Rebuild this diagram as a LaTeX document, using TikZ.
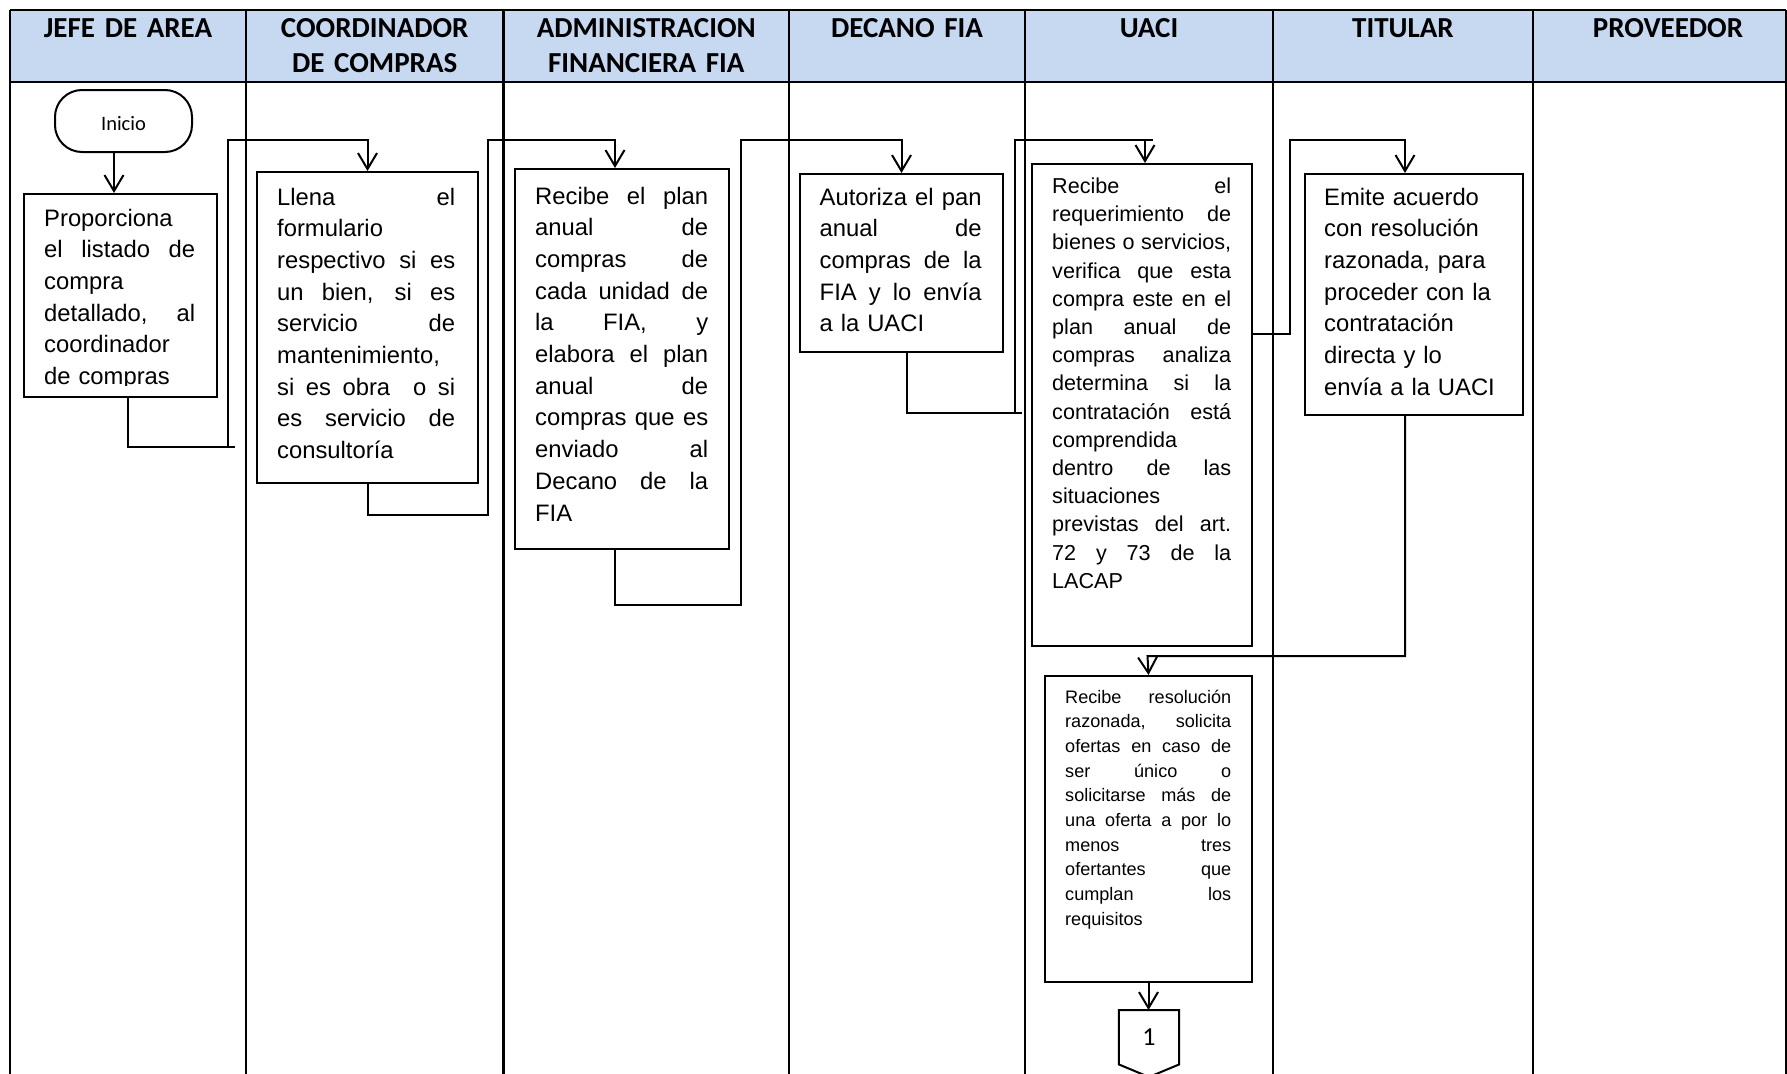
\documentclass[tikz,border=0pt]{standalone}
\usepackage{fontspec}
\setmainfont{Liberation Sans}
\newfontfamily\headfont{Carlito}
\usetikzlibrary{arrows.meta}
\definecolor{headblue}{RGB}{198,217,241}
% width of the justified lines of the current box text
\newlength\jw
% one justified line: the word spaces share the free room
\newcommand\jline[1]{\leavevmode\hbox to \jw{\spaceskip=0.28em plus 1fil\relax #1}}

\begin{document}
\begin{tikzpicture}[x=1pt,y=-1pt,
  rule/.style={line width=2.7pt},
  box/.style={draw,line width=2pt,inner sep=0pt,anchor=north west},
  txt/.style={inner sep=0pt,anchor=base west,align=left,
    text width=#1,jwidth=#1},
  jwidth/.code={\global\jw=#1\relax},
  big/.style={font=\fontsize{23.8}{31.7}\selectfont},
  mid/.style={font=\fontsize{21.6}{28.2}\selectfont},
  small/.style={font=\fontsize{18.1}{24.7}\selectfont},
  head/.style={inner sep=0pt,anchor=base,align=center,
    font=\headfont\bfseries\fontsize{29}{35.5}\selectfont},
  flow/.style={line width=2pt,-{Straight Barb[length=16pt,width=19pt]}},
  wire/.style={line width=2pt},
]
\useasboundingbox (0,0) rectangle (1787,1073);

% ---- swimlane table ----
\fill[headblue] (10,10) rectangle (1786,82);
\draw[rule] (10,10) -- (1786,10);
\draw[rule] (10,82) -- (1786,82);
\foreach \x in {10,246,503.5,789,1025,1273,1533,1786}
  \draw[rule] (\x,10) -- (\x,1080);

\node[head,text width=230pt] (h1) at (128,37.3) {JEFE DE AREA};
\node[head,text width=250pt] (h2) at (374.75,37.3) {COORDINADOR\\DE COMPRAS};
\node[head,text width=280pt] (h3) at (646.25,37.3) {ADMINISTRACION\\FINANCIERA FIA};
\node[head,text width=230pt] (h4) at (907,37.3) {DECANO FIA};
\node[head,text width=240pt] (h5) at (1149,37.3) {UACI};
\node[head,text width=250pt] (h6) at (1403,37.3) {TITULAR};
\node[head,text width=250pt] (h7) at (1668,37.3) {PROVEEDOR};

% ---- start terminal ----
\node[draw,line width=2pt,rounded corners=27pt,minimum width=137pt,
  minimum height=62pt,inner sep=0pt,
  font=\headfont\fontsize{20.5}{24}\selectfont] (ini) at (123.5,121)
  {\raisebox{-9.5pt}[0pt][0pt]{Inicio}};

% ---- process boxes ----
\node[box,minimum width=193pt,minimum height=203pt] (b1) at (23,193) {};
\node[box,minimum width=221pt,minimum height=311pt] (b2) at (256,171) {};
\node[box,minimum width=214pt,minimum height=380pt] (b3) at (514,168) {};
\node[box,minimum width=203pt,minimum height=178pt] (b4) at (799,173) {};
\node[box,minimum width=220pt,minimum height=482pt] (b5) at (1031,163) {};
\node[box,minimum width=218pt,minimum height=241pt] (b6) at (1304,173) {};
\node[box,minimum width=207pt,minimum height=306pt] (b7) at (1044,675) {};

% ---- box texts ----
\begin{scope}
\clip (23,193) rectangle (216,385);
\node[txt=151pt,big] (t1) at (44,226) {Proporciona\\
\jline{el listado de}\\
compra\\
\jline{detallado, al}\\
coordinador\\
de compras};
\end{scope}

\node[txt=178pt,big] (t2) at (277,205) {\jline{Llena el}\\
formulario\\
\jline{respectivo si es}\\
\jline{un bien, si es}\\
\jline{servicio de}\\
mantenimiento,\\
\jline{si es obra\ \ o si}\\
\jline{es servicio de}\\
consultoría};

\node[txt=173pt,big] (t3) at (535,204) {\jline{Recibe el plan}\\
\jline{anual de}\\
\jline{compras de}\\
\jline{cada unidad de}\\
\jline{la FIA, y}\\
\jline{elabora el plan}\\
\jline{anual de}\\
\jline{compras que es}\\
\jline{enviado al}\\
\jline{Decano de la}\\
FIA};

\node[txt=162pt,big] (t4) at (819.5,205) {\jline{Autoriza el pan}\\
\jline{anual de}\\
\jline{compras de la}\\
\jline{FIA y lo envía}\\
a la UACI};

\node[txt=179pt,mid] (t5) at (1052,193.5) {\jline{Recibe el}\\
\jline{requerimiento de}\\
\jline{bienes o servicios,}\\
\jline{verifica que esta}\\
\jline{compra este en el}\\
\jline{plan anual de}\\
\jline{compras analiza}\\
\jline{determina si la}\\
\jline{contratación está}\\
comprendida\\
\jline{dentro de las}\\
situaciones\\
\jline{previstas del art.}\\
\jline{72 y 73 de la}\\
LACAP};

\node[txt=190pt,big] (t6) at (1324,205) {Emite acuerdo\\
con resolución\\
razonada, para\\
proceder con la\\
contratación\\
directa y lo\\
envía a la UACI};

\node[txt=166pt,small] (t7) at (1065,703) {\jline{Recibe resolución}\\
\jline{razonada, solicita}\\
\jline{ofertas en caso de}\\
\jline{ser único o}\\
\jline{solicitarse más de}\\
\jline{una oferta a por lo}\\
\jline{menos tres}\\
\jline{ofertantes que}\\
\jline{cumplan los}\\
requisitos};

% ---- off-page connector ----
\node[inner sep=0pt,minimum width=60pt,minimum height=54pt,anchor=north,
  font=\headfont\fontsize{26}{30}\selectfont] (c1) at (1149,1010) {1};
\coordinate (c1tip) at (1149,1077);
\draw[wire] (c1.north west) -- (c1.south west) -- (c1tip)
  -- (c1.south east) -- (c1.north east) -- cycle;

% ---- routing points ----
\coordinate (rail) at (0,140);
\coordinate (x0) at (114,0);
\coordinate (d1) at (128,447);
\coordinate (o1) at (235,447);
\coordinate (u1) at (228,447);
\coordinate (u2) at (488,515);
\coordinate (a3) at (615,140);
\coordinate (u3) at (741,605);
\coordinate (d4) at (907,413);
\coordinate (o4) at (1022,413);
\coordinate (u4) at (1015,413);
\coordinate (o5) at (1153,140);
\coordinate (a5) at (1145,140);
\coordinate (e5) at (1290,334);
\coordinate (a6) at (1405,140);
\coordinate (j7) at (1147.5,656);

% ---- connectors ----
\draw[flow] (ini.south -| x0) -- (b1.north -| x0);
\draw[flow] (b1.south -| d1) -- (d1) -- (o1) (u1) |- (b2.north |- rail) -- (b2.north);
\draw[flow] (b2.south) |- (u2) |- (a3) -- (b3.north -| a3);
\draw[flow] (b3.south -| a3) |- (u3) |- (b4.north |- rail) -- (b4.north);
\draw[flow] (b4.south -| d4) -- (d4) -- (o4) (u4) |- (o5) (a5) -- (b5.north -| a5);
\draw[flow] (b5.east |- e5) -- (e5) |- (a6) -- (b6.north -| a6);
\draw[flow] (b6.south -| a6) |- (j7) -- (b7.north);
\draw[flow] (b7.south) -- (b7.south |- c1.north);
\end{tikzpicture}
\end{document}
